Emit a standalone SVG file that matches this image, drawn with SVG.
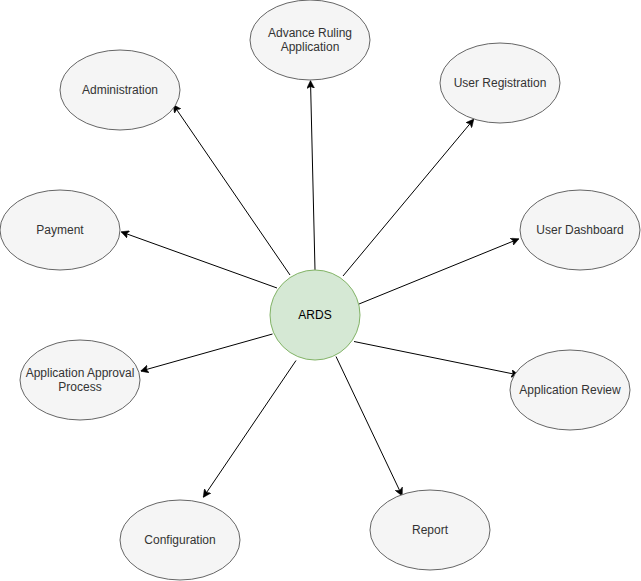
<svg xmlns="http://www.w3.org/2000/svg" width="641" height="581" viewBox="0 0 641 581">
<style>
.n ellipse{fill:#f5f5f5;stroke:#666666;stroke-width:1}
.n text{font-family:"Liberation Sans",Arial,sans-serif;font-size:12px;fill:#333333;text-anchor:middle}
.c{fill:#d5e8d4;stroke:#82b366;stroke-width:1}
.ct{font-family:"Liberation Sans",Arial,sans-serif;font-size:12px;fill:#000000;text-anchor:middle}
#edges line{stroke:#000000;stroke-width:1;fill:none;marker-end:url(#arr)}
</style>
<defs>
<marker id="arr" markerUnits="userSpaceOnUse" viewBox="0 0 8 8" refX="7.5" refY="4" markerWidth="8" markerHeight="8" orient="auto">
<path d="M0,0 L8,4 L0,8 L2,4 Z" fill="#000000" stroke="#000000" stroke-width="0.5"/>
</marker>
</defs>
<rect width="641" height="581" fill="#ffffff"/>
<g id="edges">
<line x1="315" y1="270" x2="310.5" y2="81"/>
<line x1="290" y1="275" x2="173.5" y2="105"/>
<line x1="343" y1="276" x2="473.5" y2="119.5"/>
<line x1="277" y1="288" x2="121.5" y2="232"/>
<line x1="359" y1="304" x2="518.5" y2="239"/>
<line x1="272.5" y1="334" x2="141" y2="371"/>
<line x1="354" y1="341.5" x2="518.5" y2="375"/>
<line x1="296" y1="360.5" x2="203.5" y2="497"/>
<line x1="336" y1="356.5" x2="402" y2="495.5"/>
</g>
<g id="ards">
<circle class="c" cx="315" cy="315" r="45"/>
<text class="ct" x="315" y="319">ARDS</text>
</g>
<g id="advance-ruling" class="n">
<ellipse cx="310" cy="40" rx="60" ry="40"/>
<text x="310" y="37">Advance Ruling</text>
<text x="310" y="51">Application</text>
</g>
<g id="administration" class="n">
<ellipse cx="120" cy="90" rx="60" ry="40"/>
<text x="120" y="94">Administration</text>
</g>
<g id="user-registration" class="n">
<ellipse cx="500" cy="83" rx="60" ry="40"/>
<text x="500" y="87">User Registration</text>
</g>
<g id="payment" class="n">
<ellipse cx="60" cy="230" rx="60" ry="40"/>
<text x="60" y="234">Payment</text>
</g>
<g id="user-dashboard" class="n">
<ellipse cx="580" cy="230" rx="60" ry="40"/>
<text x="580" y="234">User Dashboard</text>
</g>
<g id="approval-process" class="n">
<ellipse cx="80" cy="380" rx="60" ry="40"/>
<text x="80" y="377">Application Approval</text>
<text x="80" y="391">Process</text>
</g>
<g id="application-review" class="n">
<ellipse cx="570" cy="390" rx="60" ry="40"/>
<text x="570" y="394">Application Review</text>
</g>
<g id="configuration" class="n">
<ellipse cx="180" cy="540" rx="60" ry="40"/>
<text x="180" y="544">Configuration</text>
</g>
<g id="report" class="n">
<ellipse cx="430" cy="530" rx="60" ry="40"/>
<text x="430" y="534">Report</text>
</g>
</svg>
